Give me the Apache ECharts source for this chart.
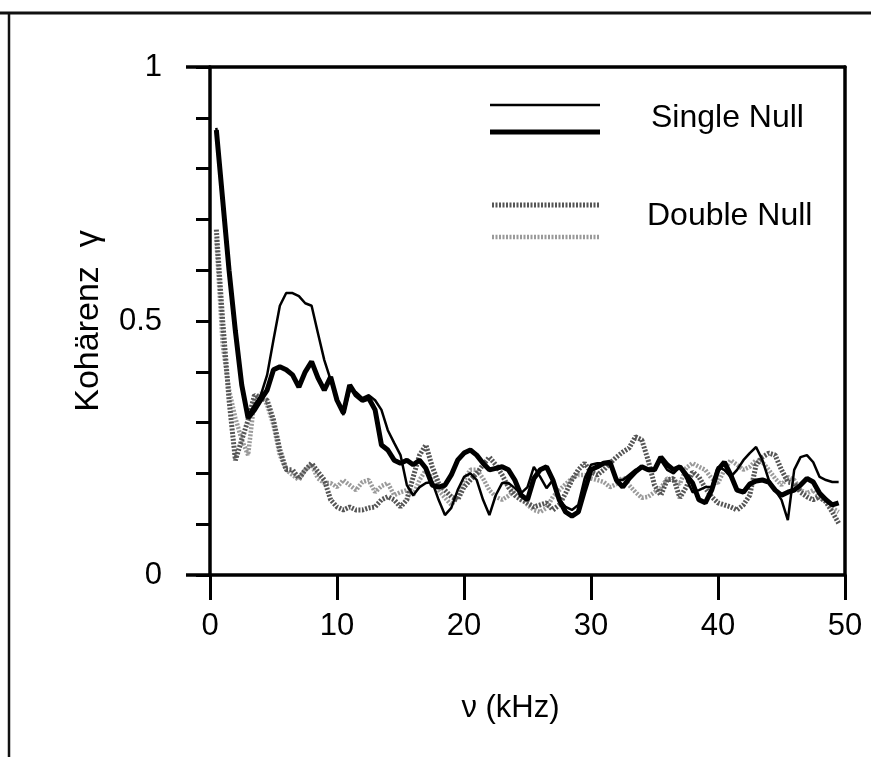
<!DOCTYPE html>
<html>
<head>
<meta charset="utf-8">
<script src="https://cdn.jsdelivr.net/npm/echarts@6/dist/echarts.min.js"></script>
<style>
html,body{margin:0;padding:0;background:#fff;}
#chart{width:871px;height:757px;}
</style>
</head>
<body>
<div id="chart"></div>
<script>
// x positions (kHz)
const xs = [0.5,1,1.5,2,2.5,3,3.5,4,4.5,5,5.5,6,6.5,7,7.5,8,8.5,9,9.5,10,
10.5,11,11.5,12,12.5,13,13.5,14,14.5,15,15.5,16,16.5,17,17.5,18,18.5,19,19.5,20,
20.5,21,21.5,22,22.5,23,23.5,24,24.5,25,25.5,26,26.5,27,27.5,28,28.5,29,29.5,30,
30.5,31,31.5,32,32.5,33,33.5,34,34.5,35,35.5,36,36.5,37,37.5,38,38.5,39,39.5,40,
40.5,41,41.5,42,42.5,43,43.5,44,44.5,45,45.5,46,46.5,47,47.5,48,48.5,49,49.5];

const singleThin = [0.88,0.728,0.59,0.472,0.368,0.315,0.335,0.354,0.394,0.463,
0.53,0.555,0.555,0.549,0.535,0.53,0.476,0.423,0.384,0.344,
0.315,0.364,0.36,0.348,0.354,0.344,0.325,0.285,0.26,0.236,
0.177,0.157,0.173,0.181,0.183,0.148,0.118,0.132,0.167,0.193,
0.2,0.187,0.148,0.118,0.157,0.181,0.181,0.171,0.161,0.173,
0.213,0.193,0.171,0.187,0.148,0.134,0.128,0.138,0.19,0.217,
0.22,0.22,0.217,0.187,0.187,0.197,0.207,0.213,0.207,0.21,
0.226,0.207,0.2,0.213,0.19,0.163,0.167,0.173,0.173,0.213,
0.207,0.193,0.207,0.226,0.24,0.252,0.226,0.187,0.167,0.148,
0.108,0.207,0.232,0.236,0.222,0.193,0.187,0.183,0.183];

const singleThick = [0.876,0.738,0.60,0.48,0.374,0.309,0.325,0.345,0.364,0.404,
0.41,0.404,0.394,0.37,0.40,0.42,0.388,0.364,0.39,0.344,
0.319,0.374,0.354,0.344,0.348,0.325,0.256,0.246,0.226,0.22,
0.226,0.217,0.226,0.21,0.177,0.173,0.177,0.197,0.226,0.24,
0.246,0.236,0.22,0.207,0.21,0.213,0.207,0.187,0.157,0.148,
0.19,0.207,0.213,0.187,0.148,0.124,0.116,0.124,0.167,0.207,
0.213,0.22,0.222,0.187,0.173,0.19,0.203,0.213,0.207,0.207,
0.232,0.217,0.207,0.213,0.197,0.181,0.148,0.142,0.167,0.207,
0.222,0.197,0.167,0.163,0.179,0.185,0.187,0.183,0.167,0.157,
0.163,0.167,0.177,0.19,0.183,0.161,0.148,0.138,0.142];

const doubleDark = [0.68,0.50,0.344,0.226,0.266,0.305,0.354,0.348,0.344,0.305,
0.246,0.207,0.207,0.19,0.207,0.22,0.203,0.187,0.148,0.134,
0.128,0.134,0.128,0.128,0.132,0.134,0.148,0.154,0.148,0.134,
0.148,0.193,0.236,0.256,0.213,0.181,0.167,0.154,0.148,0.173,
0.187,0.20,0.217,0.232,0.217,0.197,0.173,0.157,0.148,0.142,
0.134,0.138,0.142,0.128,0.138,0.161,0.187,0.207,0.22,0.203,
0.197,0.207,0.22,0.232,0.242,0.25,0.272,0.266,0.226,0.177,
0.157,0.187,0.19,0.152,0.173,0.203,0.193,0.171,0.154,0.142,
0.138,0.134,0.128,0.138,0.157,0.217,0.232,0.24,0.236,0.207,
0.183,0.181,0.163,0.154,0.148,0.154,0.144,0.124,0.102];

const doubleLight = [0.66,0.453,0.364,0.309,0.266,0.236,0.344,0.358,0.335,0.295,
0.236,0.207,0.197,0.187,0.207,0.217,0.19,0.181,0.181,0.173,
0.187,0.177,0.167,0.183,0.187,0.163,0.175,0.181,0.157,0.163,
0.167,0.157,0.187,0.207,0.19,0.167,0.152,0.138,0.154,0.187,
0.207,0.207,0.19,0.167,0.154,0.148,0.156,0.167,0.154,0.138,
0.128,0.124,0.132,0.154,0.167,0.179,0.19,0.197,0.197,0.19,
0.187,0.183,0.173,0.179,0.193,0.177,0.163,0.152,0.154,0.163,
0.171,0.19,0.187,0.179,0.211,0.22,0.213,0.207,0.19,0.181,
0.207,0.226,0.217,0.207,0.213,0.226,0.222,0.207,0.19,0.177,
0.193,0.187,0.167,0.161,0.167,0.152,0.144,0.132,0.124];

const seriesNames = ['Single Null', 'Double Null'];
const xTitle = 'ν (kHz)';
const yTitle = 'Kohärenz  γ';

const pairs = ys => xs.map((x, i) => [x, ys[i]]);
const FONT = "'Liberation Sans', Arial, sans-serif";

const chart = echarts.init(document.getElementById('chart'), null, {renderer: 'canvas'});

const option = {
  backgroundColor: '#ffffff',
  animation: false,
  grid: {left: 210, top: 67, right: 26, bottom: 182, containLabel: false},
  xAxis: [{
    type: 'value', min: 0, max: 50, interval: 10, position: 'bottom',
    name: xTitle, nameLocation: 'middle', nameGap: 118,
    nameTextStyle: {fontFamily: FONT, fontSize: 31, color: '#000', padding: [0, 34, 0, 0]},
    axisLine: {show: true, onZero: false, lineStyle: {color: '#000', width: 3.5}},
    axisTick: {show: true, inside: false, length: 25, lineStyle: {color: '#000', width: 3}},
    axisLabel: {margin: 36, fontFamily: FONT, fontSize: 31, color: '#000'},
    splitLine: {show: false}
  }, {
    type: 'value', min: 0, max: 50, position: 'top',
    axisLine: {show: true, onZero: false, lineStyle: {color: '#000', width: 3.5}},
    axisTick: {show: false}, axisLabel: {show: false}, splitLine: {show: false}
  }],
  yAxis: [{
    type: 'value', min: 0, max: 1, interval: 0.1, position: 'left',
    name: yTitle, nameLocation: 'middle', nameGap: 104, nameRotate: 90,
    nameTextStyle: {fontFamily: FONT, fontSize: 34, color: '#000'},
    axisLine: {show: true, onZero: false, lineStyle: {color: '#000', width: 3.5}},
    axisTick: {show: true, inside: false, length: 14, lineStyle: {color: '#000', width: 3}},
    axisLabel: {
      margin: 48, fontFamily: FONT, fontSize: 31, color: '#000',
      formatter: v => {
        if (Math.abs(v) < 1e-6) return '0';
        if (Math.abs(v - 0.5) < 1e-6) return '0.5';
        if (Math.abs(v - 1) < 1e-6) return '1';
        return '';
      }
    },
    splitLine: {show: false}
  }, {
    type: 'value', min: 0, max: 1, position: 'right',
    axisLine: {show: true, onZero: false, lineStyle: {color: '#000', width: 3.5}},
    axisTick: {show: false}, axisLabel: {show: false}, splitLine: {show: false}
  }],
  series: [
    {name: seriesNames[1], type: 'line', data: pairs(doubleLight), showSymbol: false, symbol: 'none',
     lineStyle: {color: '#9a9a9a', width: 4.5, type: [2, 1.5]}, z: 2},
    {name: seriesNames[1], type: 'line', data: pairs(doubleDark), showSymbol: false, symbol: 'none',
     lineStyle: {color: '#555555', width: 5, type: [2, 1.5]}, z: 3},
    {name: seriesNames[0], type: 'line', data: pairs(singleThin), showSymbol: false, symbol: 'none',
     lineStyle: {color: '#000', width: 2.5}, z: 4},
    {name: seriesNames[0], type: 'line', data: pairs(singleThick), showSymbol: false, symbol: 'none',
     lineStyle: {color: '#000', width: 5}, z: 5}
  ]
};
chart.setOption(option);

// decorations: extended frame lines, legend, scan border
const p00 = chart.convertToPixel({gridIndex: 0}, [0, 0]);
const p01 = chart.convertToPixel({gridIndex: 0}, [0, 1]);
chart.setOption({
  graphic: [
    {type: 'line', shape: {x1: p00[0] - 24, y1: p00[1], x2: p00[0], y2: p00[1]}, style: {stroke: '#000', lineWidth: 3.5}},
    {type: 'line', shape: {x1: p01[0] - 24, y1: p01[1], x2: p01[0], y2: p01[1]}, style: {stroke: '#000', lineWidth: 3.5}},
    // scanned page frame
    {type: 'line', shape: {x1: 0, y1: 13, x2: 871, y2: 13}, style: {stroke: '#111', lineWidth: 3}},
    {type: 'line', shape: {x1: 9, y1: 13, x2: 9, y2: 757}, style: {stroke: '#111', lineWidth: 2.5}},
    // legend
    {type: 'line', shape: {x1: 490, y1: 105, x2: 600, y2: 105}, style: {stroke: '#000', lineWidth: 2.5}},
    {type: 'line', shape: {x1: 490, y1: 132, x2: 600, y2: 132}, style: {stroke: '#000', lineWidth: 5}},
    {type: 'text', left: 651, top: 102, style: {text: seriesNames[0], font: '32px ' + FONT, fill: '#000'}},
    {type: 'line', shape: {x1: 492, y1: 205, x2: 600, y2: 205}, style: {stroke: '#555555', lineWidth: 5, lineDash: [2, 1.5]}},
    {type: 'line', shape: {x1: 492, y1: 237, x2: 600, y2: 237}, style: {stroke: '#9a9a9a', lineWidth: 4.5, lineDash: [2, 1.5]}},
    {type: 'text', left: 647, top: 200, style: {text: seriesNames[1], font: '32px ' + FONT, fill: '#000'}}
  ]
});
</script>
</body>
</html>
